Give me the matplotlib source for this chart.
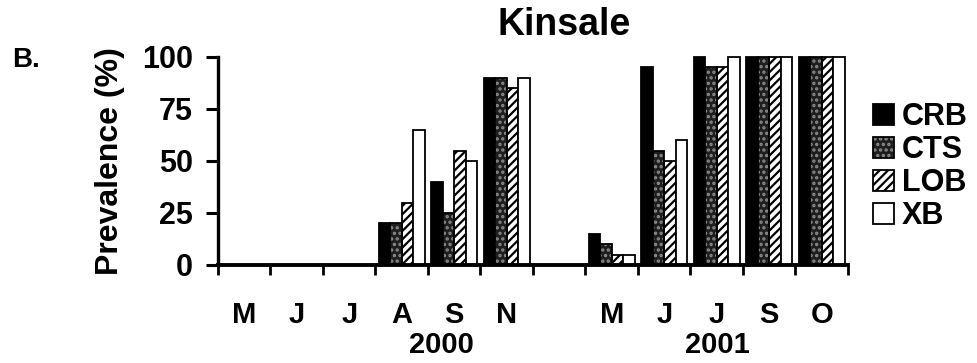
import numpy as np
import matplotlib.pyplot as plt
from matplotlib.patches import Patch
from matplotlib.legend_handler import HandlerTuple
from matplotlib.transforms import blended_transform_factory

plt.rcParams['font.family'] = ['Liberation Sans', 'DejaVu Sans']
plt.rcParams['font.weight'] = 'bold'
plt.rcParams['axes.labelweight'] = 'bold'
plt.rcParams['hatch.linewidth'] = 1.6

# sampling months (two seasons) and prevalence per parasite group, in %
months = ['M', 'J', 'J', 'A', 'S', 'N', 'M', 'J', 'J', 'S', 'O']
years = [2000, 2000, 2000, 2000, 2000, 2000, 2001, 2001, 2001, 2001, 2001]
crb = [0, 0, 0, 20, 40, 90, 15, 95, 100, 100, 100]
cts = [0, 0, 0, 20, 25, 90, 10, 55, 95, 100, 100]
lob = [0, 0, 0, 30, 55, 85, 5, 50, 95, 100, 100]
xb = [0, 0, 0, 65, 50, 90, 5, 60, 100, 100, 100]
groups = ['CRB', 'CTS', 'LOB', 'XB']

# one empty slot between the two seasons
slots = np.array([i + (1 if y == 2001 else 0) for i, y in enumerate(years)])
n_slots = slots.max() + 1
centers = slots + 0.5

fig = plt.figure(figsize=(9.78, 3.63), dpi=100)
ax = fig.add_axes([218 / 978, 1 - 265 / 363, 630 / 978, 208 / 363])

w = 0.22
offs = (np.arange(4) - 1.5) * w
lw = 1.3

ax.bar(centers + offs[0], crb, w, color='black', edgecolor='black',
       linewidth=lw, clip_on=False, zorder=2)
ax.bar(centers + offs[1], cts, w, color='#1e1e1e', edgecolor='#8c8c8c',
       hatch='...', linewidth=0, clip_on=False, zorder=2)
ax.bar(centers + offs[1], cts, w, fill=False, edgecolor='black',
       linewidth=lw, clip_on=False, zorder=3)
ax.bar(centers + offs[2], lob, w, color='white', edgecolor='black',
       hatch='////', linewidth=lw, clip_on=False, zorder=2)
ax.bar(centers + offs[3], xb, w, color='white', edgecolor='black',
       linewidth=lw, clip_on=False, zorder=2)

ax.set_xlim(0, n_slots)
ax.set_ylim(0, 100)
ax.spines[['top', 'right']].set_visible(False)
ax.spines['left'].set_linewidth(2.4)
ax.spines['bottom'].set_linewidth(2.8)

ax.set_yticks([0, 25, 50, 75, 100])
ax.tick_params(axis='y', length=9, width=2.2, pad=9, labelsize=22)

ax.set_xticks(np.arange(n_slots + 1))
ax.set_xticklabels([])
ax.tick_params(axis='x', which='major', length=7, width=2.0, direction='out')
ax.set_xticks(centers, minor=True)
ax.set_xticklabels(months, minor=True)
ax.tick_params(axis='x', which='minor', length=0, pad=26, labelsize=21)

ax.set_ylabel('Prevalence (%)', fontsize=23, fontweight='bold', labelpad=12)

trans = blended_transform_factory(ax.transData, fig.transFigure)
ax.text(4.25, 1 - 345 / 363, '2000', transform=trans, ha='center',
        va='center', fontsize=21, fontweight='bold')
ax.text(9.52, 1 - 345 / 363, '2001', transform=trans, ha='center',
        va='center', fontsize=21, fontweight='bold')

fig.text(564 / 978, 1 - 25 / 363, 'Kinsale', ha='center', va='center',
         fontsize=27, fontweight='bold')
fig.text(26 / 978, 1 - 60 / 363, 'B.', ha='center', va='center',
         fontsize=20, fontweight='bold')

handles = [
    Patch(facecolor='black', edgecolor='black', linewidth=lw),
    (Patch(facecolor='#1e1e1e', edgecolor='#8c8c8c', hatch='...', linewidth=0),
     Patch(fill=False, edgecolor='black', linewidth=lw)),
    Patch(facecolor='white', edgecolor='black', hatch='////', linewidth=lw),
    Patch(facecolor='white', edgecolor='black', linewidth=lw),
]
fig.legend(handles, groups, loc='upper left',
           bbox_to_anchor=(873 / 978, 1 - 102 / 363),
           frameon=False, borderpad=0, borderaxespad=0,
           prop={'size': 22, 'weight': 'bold'},
           handlelength=0.7, handleheight=0.7, handletextpad=0.25,
           labelspacing=0.1, handler_map={tuple: HandlerTuple(ndivide=1)})

fig.savefig('out.png', dpi=100)
